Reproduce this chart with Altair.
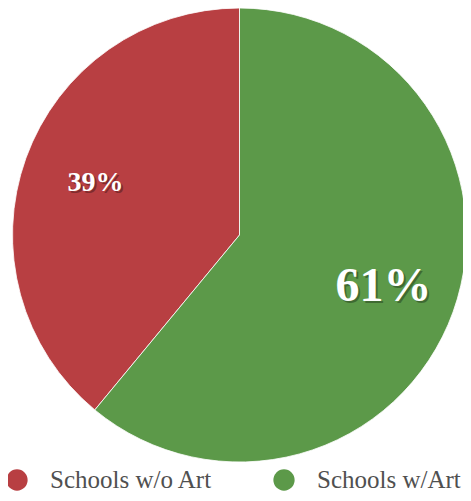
import altair as alt
import pandas as pd

categories = ["Schools w/o Art", "Schools w/Art"]
values = [39, 61]
labels = ["39%", "61%"]
colors = ["#B83F42", "#5C9949"]

df = pd.DataFrame({"category": categories, "value": values, "label": labels})

CX, CY, R = 231.5, 227, 227
order_expr = "datum.category === 'Schools w/Art' ? 0 : 1"

base = alt.Chart(df).transform_calculate(ord=order_expr)

theta = alt.Theta("value:Q", stack=True)
order = alt.Order("ord:Q", sort="ascending")
color = alt.Color("category:N", scale=alt.Scale(domain=categories, range=colors), legend=None)

pie = base.mark_arc(radius=R, stroke="#ffffff", strokeWidth=0.8).encode(
    theta=theta, order=order, color=color,
    x=alt.value(CX), y=alt.value(CY),
)

size = alt.Size("category:N", scale=alt.Scale(domain=categories, range=[28, 48]), legend=None)

shadow = base.mark_text(radius=153, font="Liberation Serif", fontWeight="bold",
                        color="#000000", opacity=0.3, dx=2, dy=2, baseline="middle").encode(
    theta=theta, order=order, text="label:N", size=size,
    x=alt.value(CX), y=alt.value(CY),
)
txt = base.mark_text(radius=153, font="Liberation Serif", fontWeight="bold",
                     color="#ffffff", baseline="middle").encode(
    theta=theta, order=order, text="label:N", size=size,
    x=alt.value(CX), y=alt.value(CY),
)

legx = alt.X("category:N", scale=alt.Scale(type="point", domain=categories, range=[9, 276], padding=0), axis=None)
leg_pts = alt.Chart(df).mark_point(filled=True, shape="circle", size=452, opacity=1).encode(
    x=legx, y=alt.value(472), color=color,
)
leg_txt = alt.Chart(df).mark_text(align="left", baseline="alphabetic", dx=33,
                                   font="Liberation Serif", fontSize=25, color="#505050").encode(
    x=legx, y=alt.value(480), text="category:N",
)

chart = alt.layer(pie, shadow, txt, leg_pts, leg_txt).properties(
    width=455, height=485,
    autosize=alt.AutoSizeParams(type="none"),
    padding=0,
).configure_view(stroke=None)

chart.save("out.html", embed_options={"renderer": "svg", "actions": False})
